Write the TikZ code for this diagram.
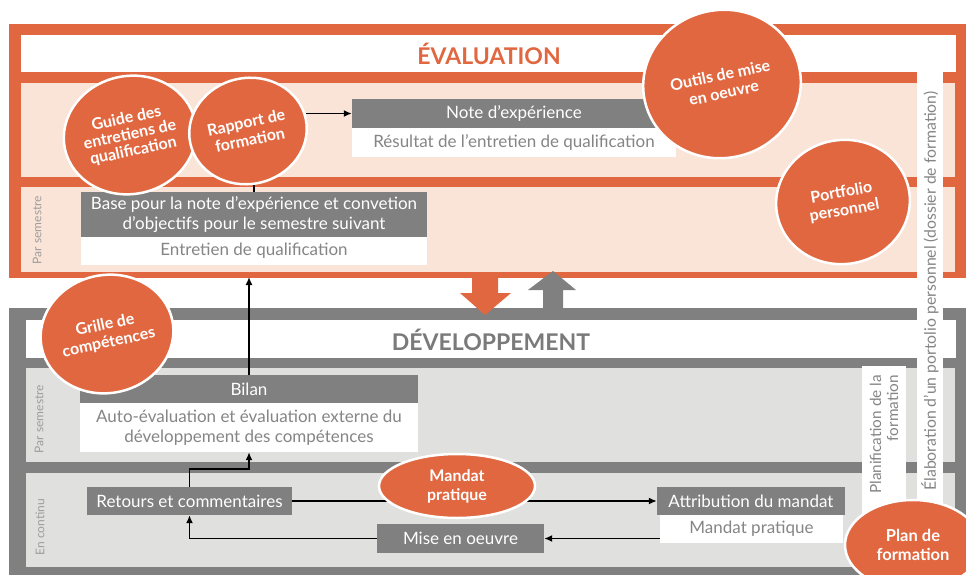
\documentclass[tikz,border=0pt]{standalone}
\usepackage{fontspec}
\setmainfont{Lato}
\usetikzlibrary{shapes.geometric,arrows.meta,calc}
\definecolor{orng}{HTML}{E06740}
\definecolor{peach}{HTML}{FAE4D7}
\definecolor{gframe}{HTML}{808080}
\definecolor{lgray}{HTML}{E0E0DF}
\definecolor{txtgray}{HTML}{858585}
\newcommand\bxfont{\fontsize{17}{20}\selectfont}
\newcommand\bbfont{\bfseries\fontsize{16}{18}\selectfont}
\tikzset{
  gbox/.style={fill=gframe, text=white, inner sep=0pt, font=\bxfont, align=center},
  wbox/.style={fill=white, text=txtgray, inner sep=0pt, font=\bxfont, align=center},
  bubble/.style={ellipse, fill=orng, draw=white, line width=2.5pt, text=white, font=\bbfont, align=center, inner sep=0pt},
  arr/.style={-{Latex[length=8pt,width=7pt]}, line width=1.5pt, black},
  con/.style={line width=1.5pt, black},
  sidelabel/.style={text=txtgray!80, font=\fontsize{12}{14}\selectfont, inner sep=0pt, rotate=90},
  striptext/.style={text=txtgray, inner sep=0pt, rotate=90},
  titletext/.style={font=\bfseries\fontsize{23}{25}\selectfont, inner sep=0pt}
}
\begin{document}
\begin{tikzpicture}[x=1pt,y=-1pt]
\useasboundingbox (0,0) rectangle (966,575);
\begin{scope}
\clip (0,0) rectangle (966,575);
% evaluation frame
\fill[orng] (9,24) rectangle (975,278);
\fill[white] (21,35) rectangle (956,72);
\fill[peach] (21,83) rectangle (955,177);
\fill[peach] (21,187) rectangle (955,272);
% development frame
\fill[gframe] (9,308) rectangle (975,585);
\fill[white] (26,320) rectangle (956,358);
\fill[lgray] (26,368) rectangle (955,462);
\fill[lgray] (26,473) rectangle (955,567);
% strips
\fill[white] (917,72) rectangle (943,550);
\fill[white] (862,366) rectangle (906,550);
\node[striptext, font=\fontsize{15.8}{18}\selectfont] (elab) at (930,291) {Élaboration d’un portolio personnel (dossier de formation)};
\node[striptext, font=\fontsize{15.3}{17}\selectfont, anchor=east, align=right] (planif) at (884,375) {Planification de la\\formation};
% titles
\node[titletext, text=orng] (evaltitle) at (489,54) {ÉVALUATION};
\node[titletext, text=gframe!95!black] (devtitle) at (491,340) {DÉVELOPPEMENT};
% side labels
\node[sidelabel] (ps1) at (37,230) {Par semestre};
\node[sidelabel] (ps2) at (39,419) {Par semestre};
\node[sidelabel] (cont) at (40,527) {En continu};
% boxes
\node[gbox, minimum width=324, minimum height=29] (note) at (514,113.5) {Note d’expérience};
\node[wbox, minimum width=324, minimum height=29] (resultat) at (514,142.5) {Résultat de l’entretien de qualification};
\node[gbox, minimum width=346, minimum height=45] (base) at (254,214.5) {Base pour la note d’expérience et convetion\\d’objectifs pour le semestre suivant};
\node[wbox, minimum width=346, minimum height=28] (entretien) at (254,251) {Entretien de qualification};
\node[gbox, minimum width=338, minimum height=28] (bilan) at (249,389) {Bilan};
\node[wbox, minimum width=338, minimum height=49] (bilanw) at (249,427.5) {Auto-évaluation et évaluation externe du\\développement des compétences};
\node[gbox, minimum width=205, minimum height=28] (retours) at (189.5,501) {Retours et commentaires};
\node[gbox, minimum width=167, minimum height=29] (mise) at (460.5,538.5) {Mise en oeuvre};
\node[gbox, minimum width=188, minimum height=28] (attr) at (751,501) {Attribution du mandat};
\node[wbox, minimum width=183, minimum height=28] (mandatw) at (751.5,529) {Mandat pratique};
\coordinate (evalb) at (249,277);
% connectors (bubbles drawn on top later)
\coordinate (rapportc) at (248,131);
\coordinate (rapE) at (306,131);
\coordinate (mandatc) at (457,486);
\draw[arr] (rapE |- note.west) -- (note.west);
\draw[con] (base.north) -- (base.north |- rapportc);
\draw[arr] (bilan.north) -- (evalb);
\draw[arr] (retours.north) |- ($(bilanw.south)+(0,17)$) -- (bilanw.south);
\draw[con] (retours.east) -- (retours.east -| mandatc);
\draw[arr] (attr.west -| mandatc) -- (attr.west);
\draw[arr] (mise.east -| mandatw.west) -- (mise.east);
\draw[arr] (mise.west) -| (retours.south);
% bubbles
\node[bubble, minimum width=122, minimum height=118, rotate=12, font=\bfseries\fontsize{16}{16.5}\selectfont] (guide) at (130,135) {Guide des\\entretiens de\\qualification};
\node[bubble, minimum width=118, minimum height=106, rotate=12] (rapport) at (rapportc) {Rapport de\\formation};
\node[bubble, minimum width=158, minimum height=148, rotate=12] (outils) at (722,84) {Outils de mise\\en oeuvre};
\node[bubble, minimum width=134, minimum height=124, rotate=10] (portfolio) at (843,202) {Portfolio\\personnel};
\node[bubble, minimum width=124, minimum height=118, rotate=12] (grille) at (107,334) {Grille de\\compétences};
\node[bubble, minimum width=156, minimum height=64, font=\bfseries\fontsize{16}{19}\selectfont] (mandat) at (mandatc) {Mandat\\pratique};
\node[bubble, minimum width=136, minimum height=90, font=\bfseries\fontsize{16.5}{19}\selectfont] (plan) at (913,545) {Plan de\\formation};
% big arrows
\fill[orng] (472,272) -- (498,272) -- (498,293) -- (511,293) -- (485,315) -- (460,293) -- (472,293) -- cycle;
\fill[gframe] (543,308) -- (563,308) -- (563,290) -- (576,290) -- (553,271) -- (528,290) -- (543,290) -- cycle;
\end{scope}
\end{tikzpicture}
\end{document}
